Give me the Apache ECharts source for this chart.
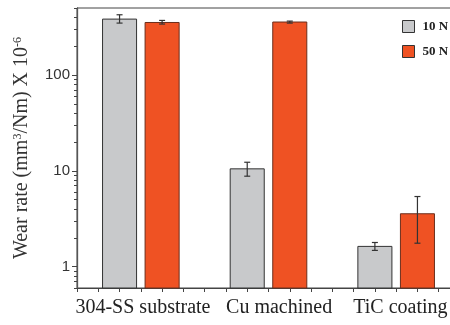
<!DOCTYPE html>
<html>
<head>
<meta charset="utf-8">
<script src="https://cdn.jsdelivr.net/npm/echarts@6/dist/echarts.min.js"></script>
<style>
  html, body { margin: 0; padding: 0; background: #fff; }
  #chart { width: 450px; height: 325px; }
</style>
</head>
<body>
<div id="chart"></div>
<script>
// groups on the x axis and where their labels sit
const categories = ['304-SS substrate', 'Cu machined', 'TiC coating'];
const labelPos = [1.55, 4.75, 7.6];

// bar positions (x) per load
const pos10 = [1, 4, 7];
const pos50 = [2, 5, 8];

// wear rate (x 10^-6 mm3/Nm) and error bar ends
const rate10 = [383, 10.5, 1.63];
const err10Lo = [348, 8.8, 1.48];
const err10Hi = [425, 12.3, 1.79];
const rate50 = [353, 357, 3.57];
const err50Lo = [340, 348, 1.76];
const err50Hi = [371, 365, 5.4];

// y ticks
const majorTicks = [1, 10, 100];
const minorTicks = [0.6, 0.7, 0.8, 0.9, 2, 3, 4, 5, 6, 7, 8, 9,
  20, 30, 40, 50, 60, 70, 80, 90, 200, 300, 400, 500];

const Y_MIN = 0.6, Y_MAX = 500;
const serif = '"Liberation Serif", "Times New Roman", serif';

const chart = echarts.init(document.getElementById('chart'));

function barRender(params, api) {
  const x = api.value(0), y = api.value(1);
  const tl = api.coord([x - 0.4, y]);
  const br = api.coord([x + 0.4, Y_MIN]);
  return {
    type: 'rect',
    shape: { x: tl[0], y: tl[1], width: br[0] - tl[0], height: br[1] - tl[1] },
    style: api.style()
  };
}

function errRender(params, api) {
  const x = api.value(0);
  const lo = api.coord([x, api.value(1)]);
  const hi = api.coord([x, api.value(2)]);
  const cap = 3;
  const st = { stroke: '#333', lineWidth: 1.2 };
  return {
    type: 'group',
    children: [
      { type: 'line', shape: { x1: lo[0], y1: lo[1], x2: hi[0], y2: hi[1] }, style: st },
      { type: 'line', shape: { x1: lo[0] - cap, y1: lo[1], x2: lo[0] + cap, y2: lo[1] }, style: st },
      { type: 'line', shape: { x1: hi[0] - cap, y1: hi[1], x2: hi[0] + cap, y2: hi[1] }, style: st }
    ]
  };
}

chart.setOption({
  animation: false,
  backgroundColor: '#fff',
  grid: {
    left: 77, right: -10, top: 8, bottom: 37,
    outerBoundsMode: 'none',
    show: true, borderColor: '#444', borderWidth: 1
  },
  legend: {
    data: ['10 N', '50 N'],
    orient: 'vertical',
    left: 397, top: 15,
    icon: 'rect',
    itemWidth: 12, itemHeight: 12, itemGap: 12,
    itemStyle: { borderColor: '#333', borderWidth: 1 },
    textStyle: { fontFamily: serif, fontWeight: 'bold', fontSize: 13, color: '#222', padding: [0, 0, 0, 3] }
  },
  xAxis: {
    type: 'value',
    min: 0, max: 9, interval: 0.5,
    splitLine: { show: false },
    axisLine: { lineStyle: { color: '#444', width: 1 } },
    axisTick: { length: 4, lineStyle: { color: '#444' } },
    axisLabel: {
      customValues: labelPos,
      formatter: v => categories[labelPos.indexOf(v)] || '',
      fontFamily: serif, fontSize: 20, color: '#222', margin: 10
    }
  },
  yAxis: [{
    type: 'log',
    min: Y_MIN, max: Y_MAX,
    splitLine: { show: false },
    axisLine: { show: true, lineStyle: { color: '#555', width: 1.3 } },
    axisTick: { show: true, customValues: majorTicks, length: 5, lineStyle: { color: '#444' } },
    axisLabel: {
      customValues: majorTicks,
      fontFamily: '"Liberation Sans", Arial, sans-serif', fontSize: 15, color: '#333', margin: 7
    },
    name: 'Wear rate (mm{s|3}/Nm) X 10{s|-6}',
    nameLocation: 'middle',
    nameGap: 45,
    nameTextStyle: {
      fontFamily: serif, fontSize: 20, color: '#333',
      rich: { s: { fontFamily: serif, fontSize: 12, color: '#333', verticalAlign: 'top' } }
    }
  }, {
    type: 'log',
    position: 'left',
    min: Y_MIN, max: Y_MAX,
    splitLine: { show: false },
    axisLine: { show: false },
    axisTick: { show: true, customValues: minorTicks, length: 3, lineStyle: { color: '#444' } },
    axisLabel: { show: false }
  }],
  series: [{
    name: '10 N',
    type: 'custom',
    renderItem: barRender,
    itemStyle: { color: '#c8c9cb', borderColor: '#333', borderWidth: 1 },
    encode: { x: 0, y: 1 },
    data: pos10.map((x, i) => [x, rate10[i]])
  }, {
    name: '50 N',
    type: 'custom',
    renderItem: barRender,
    itemStyle: { color: '#ef5223', borderColor: '#6b2e1c', borderWidth: 1 },
    encode: { x: 0, y: 1 },
    data: pos50.map((x, i) => [x, rate50[i]])
  }, {
    name: 'err10',
    type: 'custom',
    renderItem: errRender,
    encode: { x: 0, y: [1, 2] },
    data: pos10.map((x, i) => [x, err10Lo[i], err10Hi[i]]),
    z: 5
  }, {
    name: 'err50',
    type: 'custom',
    renderItem: errRender,
    encode: { x: 0, y: [1, 2] },
    data: pos50.map((x, i) => [x, err50Lo[i], err50Hi[i]]),
    z: 5
  }]
});
</script>
</body>
</html>
